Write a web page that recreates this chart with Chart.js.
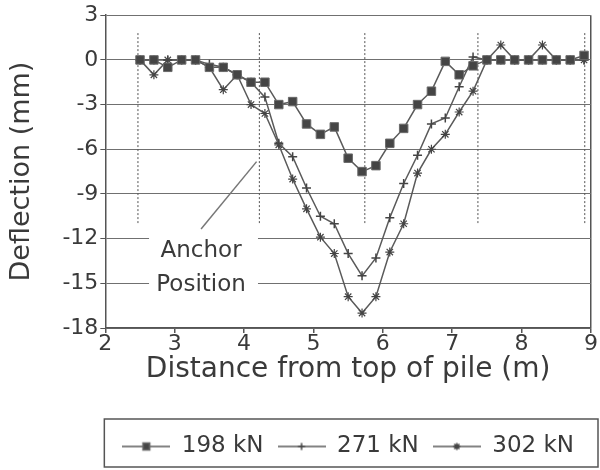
<!DOCTYPE html>
<html>
<head>
<meta charset="utf-8">
<script src="https://cdn.jsdelivr.net/npm/chart.js"></script>
<style>
  html, body { margin: 0; padding: 0; background: #fff; }
  canvas { display: block; }
</style>
</head>
<body>
<canvas id="deflectionChart" width="600" height="470"></canvas>
<script>
// gauge positions along the pile (m)
const positions = [2.5, 2.7, 2.9, 3.1, 3.3, 3.5, 3.7, 3.9, 4.1, 4.3,
                   4.5, 4.7, 4.9, 5.1, 5.3, 5.5, 5.7, 5.9, 6.1, 6.3,
                   6.5, 6.7, 6.9, 7.1, 7.3, 7.5, 7.7, 7.9, 8.1, 8.3,
                   8.5, 8.7, 8.9];

// deflection (mm) for each load
const loadLabels = ['198 kN', '271 kN', '302 kN'];
const defl198 = [0, 0, -0.5, 0, 0, -0.5, -0.5, -1.0, -1.5, -1.5,
                 -3.0, -2.8, -4.3, -5.0, -4.5, -6.6, -7.5, -7.1, -5.6, -4.6,
                 -3.0, -2.1, -0.1, -1.0, -0.4, 0, 0, 0, 0, 0,
                 0, 0, 0.3];
const defl271 = [0, 0, 0, 0, 0, -0.3, -0.5, -1.0, -1.5, -2.5,
                 -5.6, -6.5, -8.6, -10.5, -11.0, -13.0, -14.5, -13.3, -10.6, -8.3,
                 -6.4, -4.3, -3.9, -1.8, 0.2, 0, 0, 0, 0, 0,
                 0, 0, 0];
const defl302 = [0, -1.0, 0, 0, 0, -0.5, -2.0, -1.0, -3.0, -3.6,
                 -5.7, -8.0, -10.0, -11.9, -13.0, -15.9, -17.0, -15.9, -12.9, -11.0,
                 -7.6, -6.0, -5.0, -3.5, -2.1, 0, 1.0, 0, 0, 1.0,
                 0, 0, 0];

// dotted section markers
const guideX = [2.47, 4.22, 5.74, 7.37, 8.91];
const guideSpan = [1.8, -11];

// axis ticks
const xMin = 2, xMax = 9, xStep = 1;
const yMin = -18, yMax = 3, yStep = 3;

// "Anchor Position" note and its pointer
const noteLines = ['Anchor', 'Position'];
const noteAt = { x: 3.38, y: [-12.8, -15.1], box: [2.63, 4.2, -11.5, -16.2] };
const pointerX = [3.38, 4.18];
const pointerY = [-11.35, -6.83];

const ink = '#3a3a3a';
const lineGray = '#5a5a5a';
const gridGray = '#707070';
const FONT = "'DejaVu Sans', sans-serif";

const toPoints = vals => positions.map((x, i) => ({ x: x, y: vals[i] }));

const markers = [
    { style: 'rect', radius: 6, fill: '#454545', border: '#6a6a6a', width: 1 },
    { style: 'cross', radius: 4.5, fill: lineGray, border: '#444', width: 1.5 },
    { style: 'star', radius: 4.5, fill: lineGray, border: '#444', width: 1.2 }
];

// little line+marker sample for the legend
function legendIcon(m) {
    const c = document.createElement('canvas');
    c.width = 48; c.height = 14;
    const g = c.getContext('2d');
    g.strokeStyle = lineGray; g.lineWidth = 1.5;
    g.beginPath(); g.moveTo(0, 7); g.lineTo(48, 7); g.stroke();
    g.fillStyle = m.fill; g.strokeStyle = m.border;
    Chart.helpers.drawPoint(g, { pointStyle: m.style, radius: m.radius * 0.8, borderWidth: m.width, rotation: 0 }, 24, 7);
    return c;
}

const loadSeries = [defl198, defl271, defl302].map((vals, i) => ({
    label: loadLabels[i],
    data: toPoints(vals),
    borderColor: lineGray,
    borderWidth: 1.5,
    pointStyle: markers[i].style,
    pointRadius: markers[i].radius,
    pointBackgroundColor: markers[i].fill,
    pointBorderColor: markers[i].border,
    pointBorderWidth: markers[i].width,
    tension: 0
}));

const guideSeries = guideX.map(x => ({
    label: 'guide',
    data: [{ x: x, y: guideSpan[0] }, { x: x, y: guideSpan[1] }],
    borderColor: '#555',
    borderWidth: 1,
    borderDash: [2, 2],
    pointRadius: 0
}));

const pointerSeries = {
    label: 'pointer',
    data: pointerX.map((x, i) => ({ x: x, y: pointerY[i] })),
    borderColor: '#777',
    borderWidth: 1.5,
    pointRadius: 0
};

// white patch + text of the anchor note, under the data lines
const anchorNote = {
    id: 'anchorNote',
    beforeDatasetsDraw(chart) {
        const { ctx, scales: { x, y } } = chart;
        const b = noteAt.box;
        ctx.save();
        ctx.fillStyle = '#fff';
        ctx.fillRect(x.getPixelForValue(b[0]), y.getPixelForValue(b[2]),
                     x.getPixelForValue(b[1]) - x.getPixelForValue(b[0]),
                     y.getPixelForValue(b[3]) - y.getPixelForValue(b[2]));
        ctx.fillStyle = ink;
        ctx.font = '23px ' + FONT;
        ctx.textAlign = 'center';
        ctx.textBaseline = 'middle';
        noteLines.forEach((t, i) => {
            ctx.fillText(t, x.getPixelForValue(noteAt.x), y.getPixelForValue(noteAt.y[i]));
        });
        ctx.restore();
    }
};

// frame round the legend
const legendFrame = {
    id: 'legendFrame',
    afterDraw(chart) {
        const lg = chart.legend;
        const ctx = chart.ctx;
        ctx.save();
        ctx.strokeStyle = '#555';
        ctx.lineWidth = 1.5;
        ctx.strokeRect(lg.left - 1, lg.top - 2, lg.width + 8, lg.height + 1);
        ctx.restore();
    }
};

const ctx = document.getElementById('deflectionChart');

new Chart(ctx, {
    type: 'line',
    data: { datasets: loadSeries.concat([pointerSeries], guideSeries) },
    options: {
        responsive: false,
        devicePixelRatio: 1,
        animation: false,
        layout: { padding: { top: 13, right: 9, bottom: 2, left: 0 } },
        scales: {
            x: {
                type: 'linear',
                min: xMin, max: xMax,
                border: { color: '#555', width: 1.5 },
                grid: {
                    color: c => (c.tick && c.tick.value === xMax) ? '#555' : 'transparent',
                    lineWidth: 1.5,
                    tickColor: '#555',
                    tickLength: 5
                },
                ticks: {
                    stepSize: xStep,
                    padding: 0,
                    color: ink,
                    font: { family: FONT, size: 22, lineHeight: 1 }
                },
                title: {
                    display: true,
                    text: 'Distance from top of pile (m)',
                    color: ink,
                    font: { family: FONT, size: 28, lineHeight: 1 },
                    padding: { top: 1, bottom: 37 }
                }
            },
            y: {
                min: yMin, max: yMax,
                border: { color: '#555', width: 1.5 },
                grid: {
                    color: gridGray,
                    lineWidth: 1,
                    tickColor: '#555',
                    tickLength: 5
                },
                ticks: {
                    stepSize: yStep,
                    padding: 2,
                    color: ink,
                    font: { family: FONT, size: 22 }
                },
                title: {
                    display: true,
                    text: 'Deflection (mm)',
                    color: ink,
                    font: { family: FONT, size: 27 },
                    padding: { top: 6, bottom: 22 }
                }
            }
        },
        plugins: {
            legend: {
                position: 'bottom',
                fullSize: false,
                labels: {
                    usePointStyle: true,
                    pointStyleWidth: 48,
                    padding: 14,
                    color: ink,
                    font: { family: FONT, size: 23 },
                    generateLabels: chart => loadLabels.map((t, i) => ({
                        text: t,
                        pointStyle: legendIcon(markers[i]),
                        fillStyle: 'transparent',
                        strokeStyle: 'transparent',
                        lineWidth: 0,
                        fontColor: ink,
                        hidden: false,
                        datasetIndex: i
                    }))
                }
            },
            tooltip: { enabled: false }
        }
    },
    plugins: [anchorNote, legendFrame]
});
</script>
</body>
</html>
